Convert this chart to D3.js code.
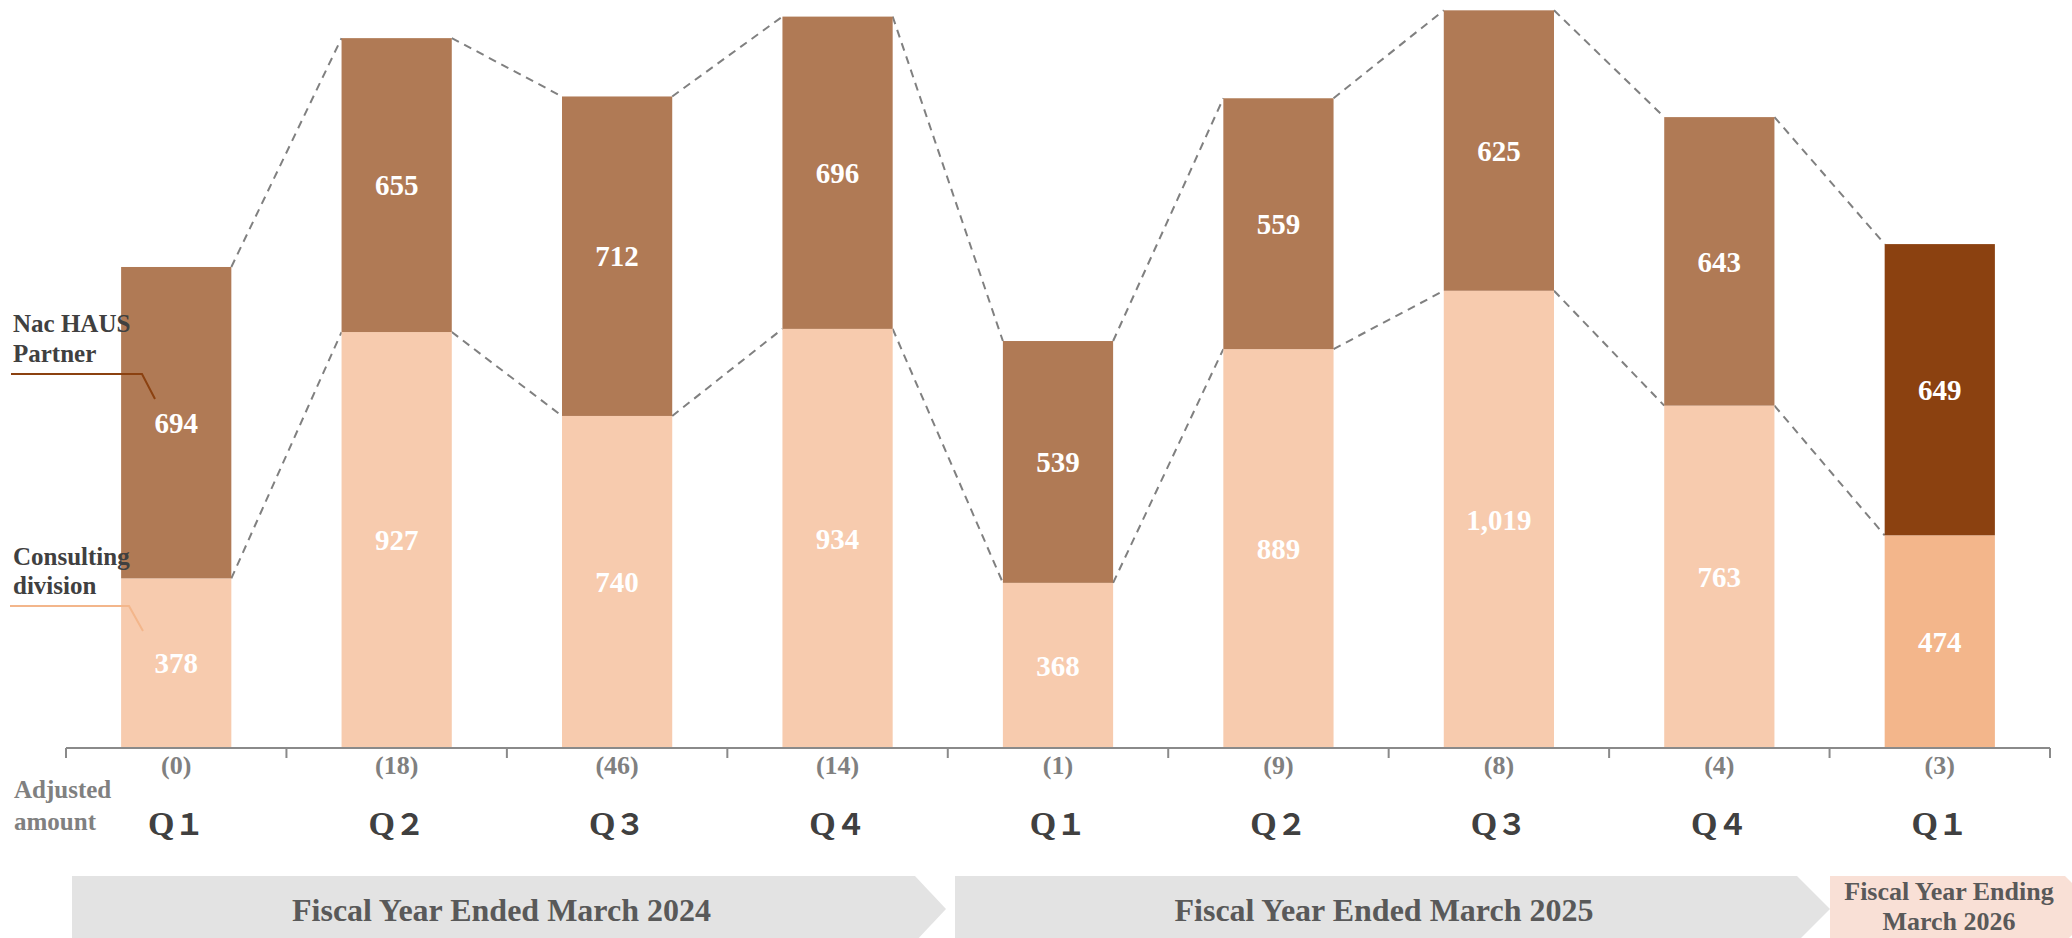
<!DOCTYPE html>
<html><head><meta charset="utf-8">
<script src="https://cdn.jsdelivr.net/npm/d3@7"></script>
<style>html,body{margin:0;padding:0;background:#fff;overflow:hidden}</style>
</head><body>
<svg id="c" width="2072" height="938"></svg>
<script>
const categories = ["FY24-Q1","FY24-Q2","FY24-Q3","FY24-Q4","FY25-Q1","FY25-Q2","FY25-Q3","FY25-Q4","FY26-Q1"];
const quarterLabels = ["1","2","3","4","1","2","3","4","1"];
const consulting = [378, 927, 740, 934, 368, 889, 1019, 763, 474];
const nacHaus = [694, 655, 712, 696, 539, 559, 625, 643, 649];
const adjusted = ["(0)","(18)","(46)","(14)","(1)","(9)","(8)","(4)","(3)"];
const fiscalYears = ["Fiscal Year Ended March 2024","Fiscal Year Ended March 2025","Fiscal Year Ending|March 2026"];

const svg = d3.select("#c");
const serif = "'Liberation Serif','Times New Roman',serif";
const base = 748;
const x = d3.scaleBand().domain(categories).range([66, 2050]).paddingInner(0.5).paddingOuter(0.25);
const y = d3.scaleLinear().domain([0, 1667]).range([base, 0]);
const bw = x.bandwidth();
const lastIdx = categories.length - 1;
const colTop = (i) => i === lastIdx ? "#8B4110" : "#B07A55";
const colBot = (i) => i === lastIdx ? "#F3B68B" : "#F7CBAE";

const data = categories.map((c, i) => ({c, i, a: consulting[i], b: nacHaus[i]}));

// dashed connectors
const conn = svg.append("g").attr("stroke", "#808080").attr("stroke-width", 2).attr("stroke-dasharray", "8,6").attr("fill", "none");
data.slice(0, -1).forEach((d, k) => {
  const n = data[k + 1];
  conn.append("line").attr("x1", x(d.c) + bw).attr("y1", y(d.a + d.b)).attr("x2", x(n.c)).attr("y2", y(n.a + n.b));
  conn.append("line").attr("x1", x(d.c) + bw).attr("y1", y(d.a)).attr("x2", x(n.c)).attr("y2", y(n.a));
});

// bars
svg.append("g").selectAll("rect").data(data).join("rect")
  .attr("x", d => x(d.c)).attr("width", bw)
  .attr("y", d => y(d.a)).attr("height", d => base - y(d.a))
  .attr("fill", d => colBot(d.i));
svg.append("g").selectAll("rect").data(data).join("rect")
  .attr("x", d => x(d.c)).attr("width", bw)
  .attr("y", d => y(d.a + d.b)).attr("height", d => y(d.a) - y(d.a + d.b))
  .attr("fill", d => colTop(d.i));

// value labels
const fmt = d3.format(",");
const lab = svg.append("g").attr("font-family", serif).attr("font-weight", "bold").attr("font-size", 29).attr("fill", "#fff").attr("text-anchor", "middle");
data.forEach(d => {
  lab.append("text").attr("x", x(d.c) + bw / 2).attr("y", (y(d.a) + base) / 2).attr("dy", "0.35em").text(fmt(d.a));
  lab.append("text").attr("x", x(d.c) + bw / 2).attr("y", (y(d.a) + y(d.a + d.b)) / 2).attr("dy", "0.35em").text(fmt(d.b));
});

// axis
const ax = svg.append("g").attr("stroke", "#8a8a8a").attr("stroke-width", 2);
const [r0, r1] = x.range();
ax.append("line").attr("x1", r0).attr("x2", r1).attr("y1", base).attr("y2", base);
d3.range(categories.length + 1).forEach(k => {
  const tx = r0 + k * x.step();
  ax.append("line").attr("x1", tx).attr("x2", tx).attr("y1", base).attr("y2", base + 10);
});

// adjusted amounts
svg.append("g").selectAll("text").data(data).join("text")
  .attr("x", d => x(d.c) + bw / 2).attr("y", 774).attr("text-anchor", "middle")
  .attr("font-family", serif).attr("font-weight", "bold").attr("font-size", 26).attr("fill", "#808080")
  .text((d, i) => adjusted[i]);

// quarter labels
const ql = svg.append("g").selectAll("text").data(data).join("text")
  .attr("x", d => x(d.c) + bw / 2).attr("y", 835).attr("text-anchor", "middle")
  .attr("font-weight", "bold").attr("font-size", 32).attr("fill", "#404040");
ql.append("tspan").attr("font-family", serif).attr("font-size", 34).text("Q");
ql.append("tspan").attr("font-family", "'Noto Sans CJK JP',sans-serif").attr("font-size", 30).text((d, i) => String.fromCharCode(0xFF10 + (+quarterLabels[i])));

// left labels
const lt = svg.append("g").attr("font-family", serif).attr("font-weight", "bold").attr("font-size", 25);
lt.append("text").attr("x", 13).attr("y", 332).attr("fill", "#404040").text("Nac HAUS");
lt.append("text").attr("x", 13).attr("y", 362).attr("fill", "#404040").text("Partner");
lt.append("text").attr("x", 13).attr("y", 565).attr("fill", "#404040").text("Consulting");
lt.append("text").attr("x", 13).attr("y", 594).attr("fill", "#404040").text("division");
lt.append("text").attr("x", 14).attr("y", 798).attr("fill", "#808080").text("Adjusted");
lt.append("text").attr("x", 14).attr("y", 830).attr("fill", "#808080").text("amount");
svg.append("polyline").attr("points", "11,374 142,374 155,399").attr("fill", "none").attr("stroke", "#8B4110").attr("stroke-width", 2);
svg.append("polyline").attr("points", "10,606 129,606 143,631").attr("fill", "none").attr("stroke", "#F3B68B").attr("stroke-width", 2);

// fiscal year arrows
const aTop = 876, aBot = 942, aMid = 909;
const fyBoxes = [
  {x0: 72, x1: 915, tip: 946, fill: "#E3E3E3"},
  {x0: 955, x1: 1797, tip: 1830, fill: "#E3E3E3"},
  {x0: 1830, x1: 2065, tip: 2098, fill: "#F9E0D6"}
];
fyBoxes.forEach((b, i) => {
  svg.append("polygon").attr("points", `${b.x0},${aTop} ${b.x1},${aTop} ${b.tip},${aMid} ${b.x1},${aBot} ${b.x0},${aBot}`).attr("fill", b.fill);
  const lines = fiscalYears[i].split("|");
  const cx = i === 2 ? 1949 : (b.x0 + b.x1) / 2 + 8;
  if (lines.length === 1) {
    svg.append("text").attr("x", cx).attr("y", 921).attr("text-anchor", "middle")
      .attr("font-family", serif).attr("font-weight", "bold").attr("font-size", 32).attr("fill", "#595959").text(lines[0]);
  } else {
    lines.forEach((t, j) => svg.append("text").attr("x", cx).attr("y", 900 + j * 30).attr("text-anchor", "middle")
      .attr("font-family", serif).attr("font-weight", "bold").attr("font-size", 26).attr("fill", "#595959").text(t));
  }
});
</script>
</body></html>
